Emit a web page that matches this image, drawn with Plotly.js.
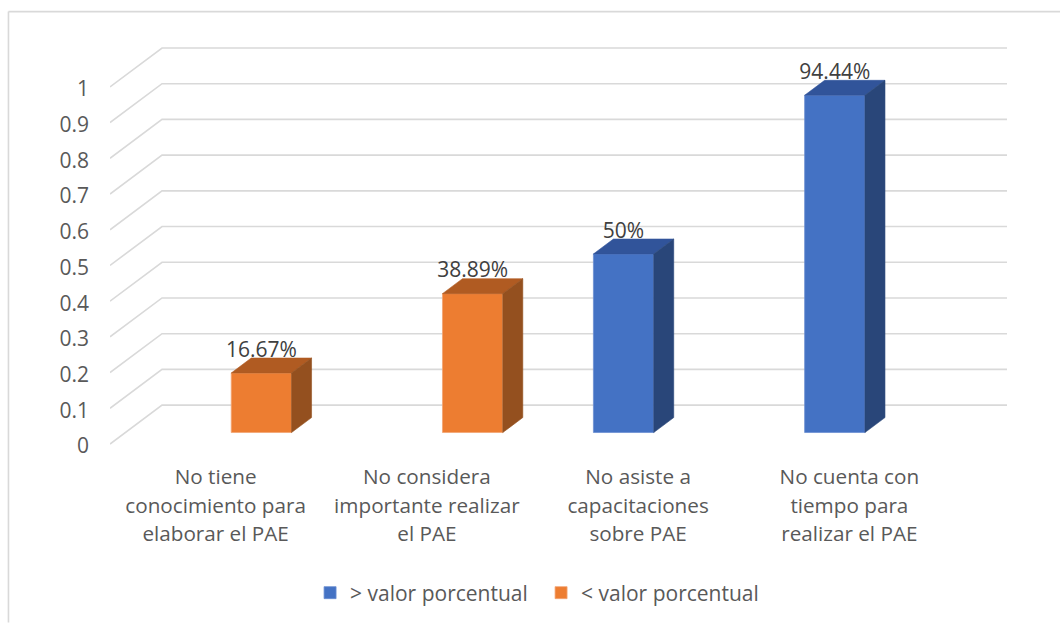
<!DOCTYPE html>
<html>
<head>
<meta charset="utf-8">
<script src="https://cdn.plot.ly/plotly-3.0.1.min.js"></script>
<style>html,body{margin:0;padding:0;background:#fff}#chart{width:1060px;height:624px}</style>
</head>
<body>
<div id="chart"></div>
<script>
// Data
var categories = [
  "No tiene<br>conocimiento para<br>elaborar el PAE",
  "No considera<br>importante realizar<br>el PAE",
  "No asiste a<br>capacitaciones<br>sobre PAE",
  "No cuenta con<br>tiempo para<br>realizar el PAE"
];
var seriesHighName = "> valor porcentual";
var seriesLowName = "< valor porcentual";
var seriesHigh = [null, null, 0.5, 0.9444];
var seriesLow = [0.1667, 0.3889, null, null];
var labelsHigh = [null, null, "50%", "94.44%"];
var labelsLow = ["16.67%", "38.89%", null, null];
var yTicks = [0, 0.1, 0.2, 0.3, 0.4, 0.5, 0.6, 0.7, 0.8, 0.9, 1];

// Plot geometry
var FONT = '"Open Sans", sans-serif';
var W = 1060, H = 624, mL = 110, mR = 53.3, mT = 47, mB = 177;
var pxX = 211.175, pxY = 358;               // pixels per category / per unit value
var xRange = [-0.5, -0.5 + (W - mL - mR) / pxX];
var yRange = [0, (H - mT - mB) / pxY];
var wallDX = 52 / pxX, wallDY = 39 / pxY;   // depth of the floor
var barDX = 20 / pxX, barDY = 15 / pxY;     // depth of a bar
var shiftX = 15.6 / pxX, shiftY = 13.5 / pxY; // bars stand inside the floor
var labelShift = 2 / pxY;                   // tick labels sit slightly below the line ends
var textDrop = 4 / pxY;                     // data labels overlap the bar top slightly
var bargap = 0.429, barW = (1 - bargap) / 2;

var traces = [];

// Walls: one line per tick, floor edge then back wall
var gx = [], gy = [];
yTicks.forEach(function (v) {
  gx.push(xRange[0], xRange[0] + wallDX, xRange[1], null);
  gy.push(v + labelShift, v + labelShift + wallDY, v + labelShift + wallDY, null);
});
traces.push({type: 'scatter', mode: 'lines', x: gx, y: gy, xaxis: 'x', yaxis: 'y',
  line: {color: '#D9D9D9', width: 1.6}, showlegend: false, hoverinfo: 'skip'});

function addSeries(values, name, front, edge) {
  traces.push({type: 'bar', name: name, x: [0, 1, 2, 3], y: values, xaxis: 'x2', yaxis: 'y2',
    marker: {color: front, line: {color: edge, width: 0.8}}});
}
addSeries(seriesHigh, seriesHighName, '#4472C4', '#6C8FD2');
addSeries(seriesLow, seriesLowName, '#ED7D31', '#F3A573');

function addFaces(values, labels, offset, top, side) {
  values.forEach(function (v, i) {
    if (v === null) return;
    var c = i + offset, l = c - barW / 2, r = c + barW / 2;
    traces.push({type: 'scatter', mode: 'lines', fill: 'toself', fillcolor: top,
      x: [l, r, r + barDX, l + barDX, l], y: [v, v, v + barDY, v + barDY, v],
      xaxis: 'x2', yaxis: 'y2', line: {color: top, width: 0.6}, showlegend: false, hoverinfo: 'skip'});
    traces.push({type: 'scatter', mode: 'lines', fill: 'toself', fillcolor: side,
      x: [r, r + barDX, r + barDX, r, r], y: [0, barDY, v + barDY, v, 0],
      xaxis: 'x2', yaxis: 'y2', line: {color: side, width: 0.6}, showlegend: false, hoverinfo: 'skip'});
    traces.push({type: 'scatter', mode: 'text', x: [c], y: [v + barDY - textDrop], text: [labels[i]],
      textposition: 'top center', textfont: {family: FONT, size: 21, color: '#404040'},
      xaxis: 'x2', yaxis: 'y2', showlegend: false, hoverinfo: 'skip'});
  });
}
addFaces(seriesHigh, labelsHigh, -barW / 2, '#31549A', '#294679');
addFaces(seriesLow, labelsLow, barW / 2, '#B05B22', '#94501F');

var layout = {
  width: W, height: H,
  margin: {l: mL, r: mR, t: mT, b: mB, pad: 0},
  paper_bgcolor: '#fff', plot_bgcolor: 'rgba(0,0,0,0)',
  showlegend: true,
  barmode: 'group', bargap: bargap, bargroupgap: 0,
  font: {family: FONT, color: '#595959', size: 20},
  xaxis: {range: xRange, tickmode: 'array', tickvals: [0, 1, 2, 3],
    ticktext: categories.map(function (c) { return '<span style="font-size:20.7px">' + c + '</span>'; }),
    tickfont: {family: FONT, size: 22, color: '#595959'}, tickangle: 0,
    showgrid: false, zeroline: false, showline: false, ticks: '', ticklabelstandoff: 15, automargin: false},
  yaxis: {range: yRange, tickmode: 'array', tickvals: yTicks,
    ticktext: yTicks.map(String),
    tickfont: {family: FONT, size: 21, color: '#595959'},
    showgrid: false, zeroline: false, showline: false, ticks: '', ticklabelstandoff: 20, automargin: false},
  xaxis2: {overlaying: 'x', visible: false, range: [xRange[0] - shiftX, xRange[1] - shiftX]},
  yaxis2: {overlaying: 'y', visible: false, range: [yRange[0] - shiftY, yRange[1] - shiftY]},
  legend: {orientation: 'h', x: (310 - mL) / (W - mL - mR), xanchor: 'left',
    y: -(593 - (H - mB)) / (H - mT - mB), yanchor: 'middle',
    entrywidth: 186, entrywidthmode: 'pixels',
    font: {family: FONT, size: 21, color: '#595959'}, bgcolor: 'rgba(0,0,0,0)', traceorder: 'normal'},
  shapes: [
    {type: 'line', xref: 'paper', yref: 'paper', layer: 'below',
      x0: (8.5 - mL) / (W - mL - mR), x1: (8.5 - mL) / (W - mL - mR),
      y0: (H - mB - 11.5) / (H - mT - mB), y1: -mB / (H - mT - mB),
      line: {color: '#D9D9D9', width: 1.6}},
    {type: 'line', xref: 'paper', yref: 'paper', layer: 'below',
      x0: (8.5 - mL) / (W - mL - mR), x1: (W - mL) / (W - mL - mR),
      y0: (H - mB - 11.5) / (H - mT - mB), y1: (H - mB - 11.5) / (H - mT - mB),
      line: {color: '#D9D9D9', width: 1.6}}
  ]
};
Plotly.newPlot('chart', traces, layout, {staticPlot: true, displayModeBar: false});
</script>
</body>
</html>
